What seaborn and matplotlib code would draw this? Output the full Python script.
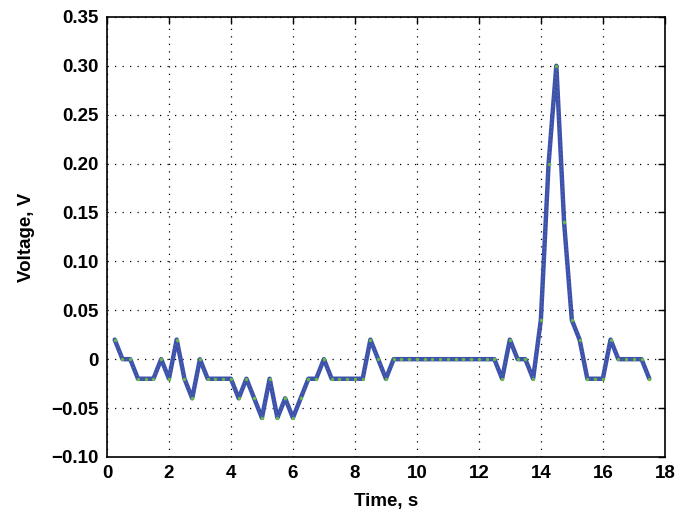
import matplotlib
matplotlib.use("Agg")
import matplotlib.pyplot as plt
import seaborn as sns
import pandas as pd

# Sample times (s)
time_s = [0.25, 0.5, 0.75, 1.0, 1.25, 1.5, 1.75, 2.0, 2.25, 2.5,
          2.75, 3.0, 3.25, 3.5, 3.75, 4.0, 4.25, 4.5, 4.75, 5.0,
          5.25, 5.5, 5.75, 6.0, 6.25, 6.5, 6.75, 7.0, 7.25, 7.5,
          7.75, 8.0, 8.25, 8.5, 8.75, 9.0, 9.25, 9.5, 9.75, 10.0,
          10.25, 10.5, 10.75, 11.0, 11.25, 11.5, 11.75, 12.0, 12.25, 12.5,
          12.75, 13.0, 13.25, 13.5, 13.75, 14.0, 14.25, 14.5, 14.75, 15.0,
          15.25, 15.5, 15.75, 16.0, 16.25, 16.5, 16.75, 17.0, 17.25, 17.5]

# Measured voltage (V)
voltage_v = [0.02, 0.0, 0.0, -0.02, -0.02, -0.02, 0.0, -0.02, 0.02, -0.02,
             -0.04, 0.0, -0.02, -0.02, -0.02, -0.02, -0.04, -0.02, -0.04, -0.06,
             -0.02, -0.06, -0.04, -0.06, -0.04, -0.02, -0.02, 0.0, -0.02, -0.02,
             -0.02, -0.02, -0.02, 0.02, 0.0, -0.02, 0.0, 0.0, 0.0, 0.0,
             0.0, 0.0, 0.0, 0.0, 0.0, 0.0, 0.0, 0.0, 0.0, 0.0,
             -0.02, 0.02, 0.0, 0.0, -0.02, 0.04, 0.20, 0.30, 0.14, 0.04,
             0.02, -0.02, -0.02, -0.02, 0.02, 0.0, 0.0, 0.0, 0.0, -0.02]

x_ticks = [0, 2, 4, 6, 8, 10, 12, 14, 16, 18]
y_ticks = [-0.10, -0.05, 0.0, 0.05, 0.10, 0.15, 0.20, 0.25, 0.30, 0.35]
y_tick_labels = ["\u22120.10", "\u22120.05", "0", "0.05", "0.10", "0.15",
                 "0.20", "0.25", "0.30", "0.35"]

df = pd.DataFrame({"t": time_s, "v": voltage_v})

sns.set_style("white")
plt.rcParams["font.family"] = ["Liberation Sans", "DejaVu Sans"]
plt.rcParams["font.weight"] = "bold"
plt.rcParams["text.color"] = "black"
plt.rcParams["axes.labelcolor"] = "black"

fig = plt.figure(figsize=(6.77, 5.19), dpi=100)
ax = fig.add_axes([0.158, 0.1195, 0.824, 0.848])

sns.lineplot(data=df, x="t", y="v", ax=ax, color="#3F51AE", linewidth=3.2,
             zorder=3)
sns.lineplot(data=df, x="t", y="v", ax=ax, color="#66BB44", linewidth=0.5,
             linestyle=(0, (1, 5)), marker="o", markersize=2.4,
             markeredgewidth=0, zorder=4)

ax.set_xlim(0, 18)
ax.set_ylim(-0.10, 0.35)
ax.set_xticks(x_ticks)
ax.set_xticklabels([str(v) for v in x_ticks])
ax.set_yticks(y_ticks)
ax.set_yticklabels(y_tick_labels)

ax.grid(True, color="black", linestyle=(0, (1, 5)), linewidth=0.9)
ax.tick_params(direction="in", length=5, width=1, top=True, right=True,
               labelsize=13.5, pad=6, colors="black")
for lbl in ax.get_xticklabels() + ax.get_yticklabels():
    lbl.set_fontweight("bold")
for sp in ax.spines.values():
    sp.set_visible(True)
    sp.set_color("black")
    sp.set_linewidth(1.2)

ax.set_xlabel("Time, s", fontsize=13.5, fontweight="bold", labelpad=8,
              color="black")
ax.set_ylabel("Voltage, V", fontsize=13.5, fontweight="bold", labelpad=12,
              color="black")

fig.savefig("out.png", dpi=100, facecolor="white")
